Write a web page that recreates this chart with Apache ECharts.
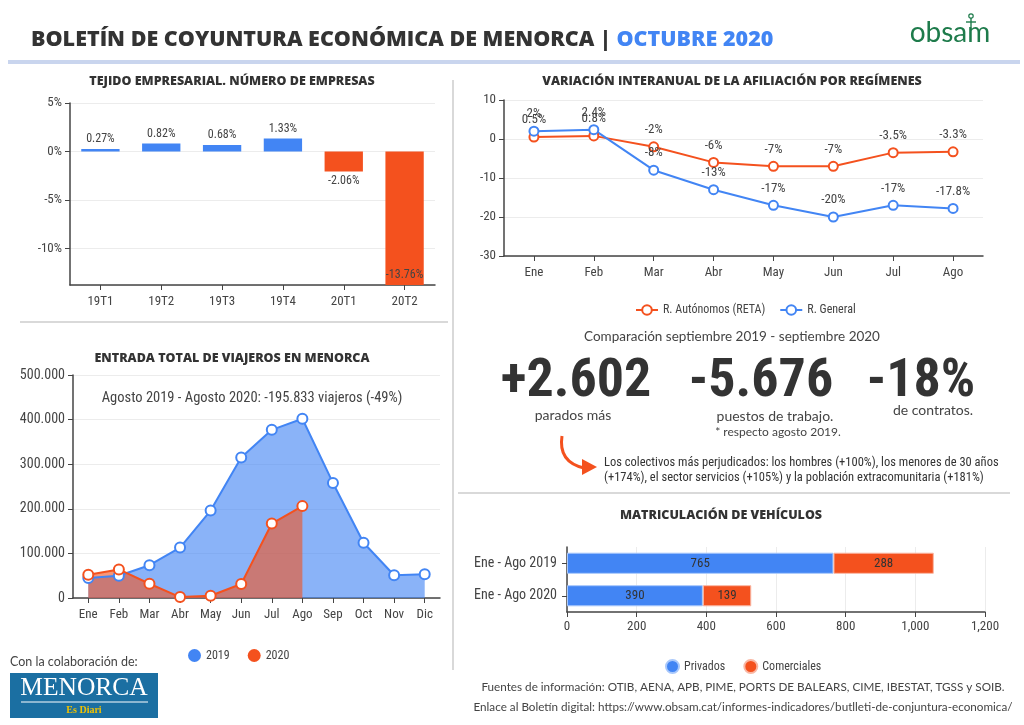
<!DOCTYPE html>
<html>
<head>
<meta charset="utf-8">
<title>Boletín de coyuntura económica de Menorca</title>
<script src="https://cdn.jsdelivr.net/npm/echarts@6/dist/echarts.min.js"></script>
<style>
  html, body { margin: 0; padding: 0; background: #fff; }
  #main { width: 1024px; height: 725px; }
</style>
</head>
<body>
<div id="main"></div>
<script>
  // tejido empresarial
  const empresasCats = ['19T1', '19T2', '19T3', '19T4', '20T1', '20T2'];
  const empresasVals = [0.27, 0.82, 0.68, 1.33, -2.06, -13.76];

  // afiliacion por regimenes
  const afilMeses = ['Ene', 'Feb', 'Mar', 'Abr', 'May', 'Jun', 'Jul', 'Ago'];
  const retaVals = [0.5, 0.8, -2, -6, -7, -7, -3.5, -3.3];
  const generalVals = [2, 2.4, -8, -13, -17, -20, -17, -17.8];

  // viajeros
  const viajMeses = ['Ene', 'Feb', 'Mar', 'Abr', 'May', 'Jun', 'Jul', 'Ago', 'Sep', 'Oct', 'Nov', 'Dic'];
  const viaj2019 = [45000, 50000, 73500, 113000, 196000, 315000, 377000, 402000, 258000, 124000, 51000, 53000];
  const viaj2020 = [52000, 64000, 32000, 2000, 5000, 31500, 167000, 206000];
  const viajTicks = [0, 100000, 200000, 300000, 400000, 500000];

  // matriculacion
  const vehCats = ['Ene - Ago 2019', 'Ene - Ago 2020'];
  const privados = [765, 390];
  const comerciales = [288, 139];

  const BLUE = '#4285f4';
  const RED = '#f4511e';
  const DARK = '#333';
  const NARROW = "'Roboto Condensed','Liberation Sans Narrow',Roboto,sans-serif";
  const HEAD = "'Open Sans',Lato,sans-serif";

  const dots = v => String(v).replace(/\B(?=(\d{3})+(?!\d))/g, '.');
  const commas = v => String(v).replace(/\B(?=(\d{3})+(?!\d))/g, ',');

  const axisTxt = { color: '#444', fontFamily: NARROW, fontSize: 13 };
  const darkLine = { show: true, lineStyle: { color: '#444', width: 1.5 } };
  const lightSplit = { show: true, lineStyle: { color: '#ececec' } };

  function txt(x, y, text, size, opts) {
    return {
      type: 'text', x: x, y: y, silent: true,
      style: Object.assign({
        text: text, fontSize: size, fontFamily: 'Lato', fill: '#444',
        textAlign: 'center', textVerticalAlign: 'middle'
      }, opts || {})
    };
  }

  let myChart = echarts.init(document.getElementById('main'));

  myChart.setOption({
    animation: false,
    backgroundColor: '#fff',
    title: [{
      text: '{a|BOLETÍN DE COYUNTURA ECONÓMICA DE MENORCA | }{b|OCTUBRE 2020}',
      left: 26, top: 24,
      textStyle: {
        rich: {
          a: { fontFamily: HEAD, fontWeight: 800, fontSize: 21.5, color: DARK },
          b: { fontFamily: HEAD, fontWeight: 800, fontSize: 21.5, color: BLUE }
        }
      }
    }],
    grid: [
      { left: 70, right: 589, top: 103, bottom: 440 },
      { left: 504, right: 41, top: 100, bottom: 469 },
      { left: 73, right: 584, top: 375, bottom: 127 },
      { left: 567, right: 39, top: 547, bottom: 113 }
    ],
    legend: [
      {
        data: ['R. Autónomos (RETA)', 'R. General'],
        left: 630, top: 299, itemWidth: 22, itemHeight: 12, itemGap: 14,
        textStyle: { color: '#444', fontFamily: NARROW, fontSize: 12 }
      },
      {
        data: ['2019', '2020'],
        icon: 'circle', left: 183, top: 644, itemWidth: 13, itemHeight: 13, itemGap: 18,
        textStyle: { color: '#444', fontFamily: NARROW, fontSize: 12 }
      },
      {
        data: ['Privados', 'Comerciales'],
        icon: 'circle', left: 660, top: 654, itemWidth: 13, itemHeight: 13, itemGap: 18,
        textStyle: { color: '#444', fontFamily: NARROW, fontSize: 12 }
      }
    ],
    xAxis: [
      {
        gridIndex: 0, type: 'category', data: empresasCats,
        axisLine: Object.assign({ onZero: false }, darkLine),
        axisTick: { show: true, alignWithLabel: true, lineStyle: { color: '#444' } },
        axisLabel: Object.assign({ margin: 10 }, axisTxt)
      },
      {
        gridIndex: 1, type: 'category', data: afilMeses,
        axisLine: Object.assign({ onZero: false }, darkLine),
        axisTick: { show: true, alignWithLabel: true, lineStyle: { color: '#444' } },
        axisLabel: Object.assign({ margin: 10 }, axisTxt)
      },
      {
        gridIndex: 2, type: 'category', data: viajMeses,
        axisLine: Object.assign({ onZero: false }, darkLine),
        axisTick: { show: true, alignWithLabel: true, lineStyle: { color: '#444' } },
        axisLabel: Object.assign({ margin: 10 }, axisTxt)
      },
      {
        gridIndex: 3, type: 'value', min: 0, max: 1200, interval: 200,
        axisLine: darkLine,
        axisTick: { show: true, lineStyle: { color: '#444' } },
        splitLine: lightSplit,
        axisLabel: Object.assign({ formatter: commas }, axisTxt)
      }
    ],
    yAxis: [
      {
        gridIndex: 0, type: 'value', min: 'dataMin', max: 5, splitNumber: 4,
        axisLine: darkLine,
        axisTick: { show: true, lineStyle: { color: '#444' } },
        splitLine: lightSplit,
        axisLabel: Object.assign({ showMinLabel: false, formatter: v => v + '%' }, axisTxt)
      },
      {
        gridIndex: 1, type: 'value', min: -30, max: 10, interval: 10,
        axisLine: darkLine,
        axisTick: { show: true, lineStyle: { color: '#444' } },
        splitLine: lightSplit,
        axisLabel: axisTxt
      },
      {
        gridIndex: 2, type: 'value', min: viajTicks[0], max: viajTicks[viajTicks.length - 1],
        interval: viajTicks[1] - viajTicks[0],
        axisLine: darkLine,
        axisTick: { show: true, lineStyle: { color: '#444' } },
        splitLine: lightSplit,
        axisLabel: Object.assign({ formatter: dots }, axisTxt, { fontSize: 14 })
      },
      {
        gridIndex: 3, type: 'category', data: vehCats, inverse: true,
        axisLine: darkLine,
        axisTick: { show: true, alignWithLabel: true, lineStyle: { color: '#444' } },
        axisLabel: Object.assign({ margin: 10 }, axisTxt, { fontSize: 14 })
      }
    ],
    series: [
      {
        name: 'Empresas', type: 'bar', xAxisIndex: 0, yAxisIndex: 0,
        barWidth: '63%',
        data: empresasVals.map(v => ({
          value: v,
          itemStyle: { color: v >= 0 ? BLUE : RED },
          label: { position: v >= 0 ? 'top' : (v < -10 ? 'insideBottom' : 'bottom') }
        })),
        label: {
          show: true, color: '#444', fontFamily: NARROW, fontSize: 12, distance: 4,
          formatter: p => p.value.toFixed(2) + '%'
        }
      },
      {
        name: 'R. Autónomos (RETA)', type: 'line', xAxisIndex: 1, yAxisIndex: 1,
        data: retaVals, color: RED,
        symbol: 'emptyCircle', symbolSize: 9,
        lineStyle: { width: 2 }, itemStyle: { borderWidth: 2 },
        label: {
          show: true, position: 'top', color: '#444', fontFamily: NARROW, fontSize: 13,
          formatter: p => p.value + '%'
        }
      },
      {
        name: 'R. General', type: 'line', xAxisIndex: 1, yAxisIndex: 1,
        data: generalVals, color: BLUE,
        symbol: 'emptyCircle', symbolSize: 9,
        lineStyle: { width: 2 }, itemStyle: { borderWidth: 2 },
        label: {
          show: true, position: 'top', color: '#444', fontFamily: NARROW, fontSize: 13,
          formatter: p => p.value + '%'
        }
      },
      {
        name: '2019', type: 'line', xAxisIndex: 2, yAxisIndex: 2,
        data: viaj2019, color: BLUE,
        symbol: 'emptyCircle', symbolSize: 10,
        lineStyle: { width: 2 }, itemStyle: { borderWidth: 2 },
        areaStyle: { color: BLUE, opacity: 0.62 }
      },
      {
        name: '2020', type: 'line', xAxisIndex: 2, yAxisIndex: 2,
        data: viaj2020, color: RED,
        symbol: 'emptyCircle', symbolSize: 10,
        lineStyle: { width: 2 }, itemStyle: { borderWidth: 2 },
        areaStyle: { color: RED, opacity: 0.6 }
      },
      {
        name: 'Privados', type: 'bar', stack: 'veh', xAxisIndex: 3, yAxisIndex: 3,
        data: privados, color: BLUE, barWidth: '65%',
        itemStyle: { borderColor: '#a9c8fb', borderWidth: 1 },
        label: { show: true, position: 'inside', color: '#333', fontFamily: NARROW, fontSize: 13 }
      },
      {
        name: 'Comerciales', type: 'bar', stack: 'veh', xAxisIndex: 3, yAxisIndex: 3,
        data: comerciales, color: RED, barWidth: '65%',
        itemStyle: { borderColor: '#f9b7a4', borderWidth: 1 },
        label: { show: true, position: 'inside', color: '#333', fontFamily: NARROW, fontSize: 13 }
      }
    ],
    graphic: [
      // cabecera
      { type: 'rect', shape: { x: 8, y: 60, width: 1012, height: 4 }, style: { fill: '#c9d5ee' } },
      txt(950, 33, 'obsam', 28, { fill: '#1e7b4b' }),
      { type: 'circle', shape: { cx: 971, cy: 16, r: 2.2 }, style: { fill: 'none', stroke: '#1e7b4b', lineWidth: 1.2 } },
      { type: 'line', shape: { x1: 971, y1: 18, x2: 971, y2: 29 }, style: { stroke: '#1e7b4b', lineWidth: 1.4 } },
      { type: 'line', shape: { x1: 966, y1: 22, x2: 976, y2: 22 }, style: { stroke: '#1e7b4b', lineWidth: 1.4 } },

      // separadores
      { type: 'rect', shape: { x: 452, y: 80, width: 2, height: 590 }, style: { fill: '#d9d9d9' } },
      { type: 'rect', shape: { x: 20, y: 321, width: 428, height: 2 }, style: { fill: '#d9d9d9' } },
      { type: 'rect', shape: { x: 458, y: 492, width: 552, height: 2 }, style: { fill: '#d9d9d9' } },

      // titulos de seccion
      txt(232, 81, 'TEJIDO EMPRESARIAL. NÚMERO DE EMPRESAS', 12.5, { fontFamily: HEAD, fontWeight: 800, fill: DARK }),
      txt(732, 81, 'VARIACIÓN INTERANUAL DE LA AFILIACIÓN POR REGÍMENES', 12.5, { fontFamily: HEAD, fontWeight: 800, fill: DARK }),
      txt(232, 358, 'ENTRADA TOTAL DE VIAJEROS EN MENORCA', 12.5, { fontFamily: HEAD, fontWeight: 800, fill: DARK }),
      txt(721, 515, 'MATRICULACIÓN DE VEHÍCULOS', 12.5, { fontFamily: HEAD, fontWeight: 800, fill: DARK }),

      // viajeros
      txt(252, 398, 'Agosto 2019 - Agosto 2020: -195.833 viajeros (-49%)', 14.5, { fontFamily: NARROW }),

      // paro
      txt(732, 337, 'Comparación septiembre 2019 - septiembre 2020', 13.5),
      txt(576, 382, '+2.602', 54, { fontFamily: NARROW, fontWeight: 'bold', fill: DARK }),
      txt(761, 382, '-5.676', 54, { fontFamily: NARROW, fontWeight: 'bold', fill: DARK }),
      txt(921, 382, '-18%', 54, { fontFamily: NARROW, fontWeight: 'bold', fill: DARK }),
      txt(573, 415, 'parados más', 14),
      txt(775, 416, 'puestos de trabajo.', 14),
      txt(778, 432, '* respecto agosto 2019.', 12),
      txt(933, 410, 'de contratos.', 14),
      {
        type: 'bezierCurve',
        shape: { x1: 562, y1: 436, cpx1: 558, cpy1: 462, x2: 584, y2: 468 },
        style: { stroke: RED, lineWidth: 3, fill: 'none' }
      },
      {
        type: 'polygon',
        shape: { points: [[582, 459], [597, 467], [582, 475]] },
        style: { fill: RED }
      },
      txt(604, 463, 'Los colectivos más perjudicados: los hombres (+100%), los menores de 30 años', 12.5,
        { fontFamily: NARROW, fill: DARK, textAlign: 'left' }),
      txt(604, 478, '(+174%), el sector servicios (+105%) y la población extracomunitaria (+181%)', 12.5,
        { fontFamily: NARROW, fill: DARK, textAlign: 'left' }),

      // pie
      txt(10, 662, 'Con la colaboración de:', 12.5, { textAlign: 'left' }),
      { type: 'rect', shape: { x: 10, y: 673, width: 148, height: 45 }, style: { fill: '#1b6fa2' } },
      txt(84, 688, 'MENORCA', 25.5, { fontFamily: "'Liberation Serif','DejaVu Serif',serif", fill: '#fff' }),
      { type: 'line', shape: { x1: 21, y1: 702, x2: 148, y2: 702 }, style: { stroke: '#fff', lineWidth: 1 } },
      txt(84, 710, 'Es Diari', 10, { fontFamily: "'Liberation Serif','DejaVu Serif',serif", fontWeight: 'bold', fill: '#f2c200' }),
      txt(743, 687, 'Fuentes de información: OTIB, AENA, APB, PIME, PORTS DE BALEARS, CIME, IBESTAT, TGSS y SOIB.', 11.7),
      txt(743, 707, 'Enlace al Boletín digital: https://www.obsam.cat/informes-indicadores/butlleti-de-conjuntura-economica/', 11.7)
    ]
  });
</script>
</body>
</html>
